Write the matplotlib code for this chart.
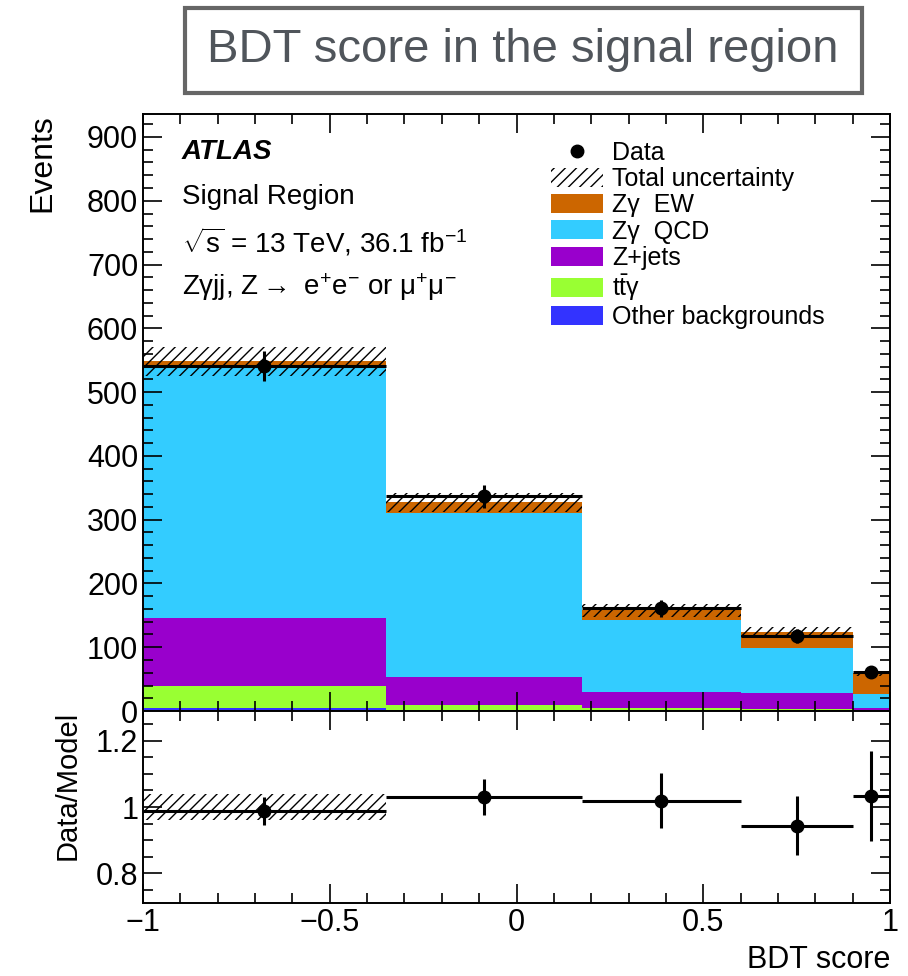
import numpy as np
import matplotlib
matplotlib.use('Agg')
import matplotlib.pyplot as plt
from matplotlib.patches import Patch, Rectangle
from matplotlib.lines import Line2D
from matplotlib.ticker import MultipleLocator, FuncFormatter

plt.rcParams['font.family'] = ['Liberation Sans', 'DejaVu Sans']
plt.rcParams['mathtext.fontset'] = 'custom'
plt.rcParams['mathtext.rm'] = 'Liberation Sans'
plt.rcParams['mathtext.default'] = 'regular'
plt.rcParams['hatch.linewidth'] = 1.0

# binning of the BDT score
edges = np.array([-1.0, -0.35, 0.175, 0.6, 0.9, 1.0])

# observed events
data = np.array([541, 337, 161, 117, 61])
data_err = np.array([23, 18, 13, 11, 8])

# stacked predictions (bottom to top)
other_bkg = np.array([4, 2, 2, 1, 0.5])
ttgamma = np.array([35, 7, 3, 2, 1])
zjets = np.array([107, 44, 25, 25, 3])
zg_qcd = np.array([393, 258, 112, 71, 21.5])
zg_ew = np.array([9, 16, 16, 25, 33])
model_unc = np.array([22, 15, 10, 8, 4])

stack = [other_bkg, ttgamma, zjets, zg_qcd, zg_ew]
stack_colors = ['#3333ff', '#99ff33', '#9900cc', '#33ccff', '#cc6600']
legend_labels = ['Data', 'Total uncertainty', 'Z\u03b3  EW', 'Z\u03b3  QCD',
                 'Z+jets', 't$\\bar{t}$\u03b3', 'Other backgrounds']

widths = np.diff(edges)
centers = edges[:-1] + widths / 2

fig = plt.figure(figsize=(9.08, 9.76), dpi=100)
ax = fig.add_axes([0.1575, 0.2715, 0.8227, 0.6117])
axr = fig.add_axes([0.1575, 0.0748, 0.8227, 0.1967])

# stacked histogram
bottom = np.zeros(len(centers))
for vals, col in zip(stack, stack_colors):
    ax.bar(edges[:-1], vals, width=widths, bottom=bottom, align='edge',
           color=col, linewidth=0)
    bottom = bottom + vals
model = bottom

ax.bar(edges[:-1], 2 * model_unc, width=widths, bottom=model - model_unc,
       align='edge', fill=False, hatch='///', linewidth=0, edgecolor='k')
ax.errorbar(centers, data, xerr=widths / 2, yerr=data_err, fmt='o', color='k',
            ms=9, elinewidth=2.2, capsize=0)

# ratio panel
ratio = data / model
ratio_err = data_err / model
rel_unc = model_unc / model
axr.bar(edges[0], 2 * rel_unc[0], width=widths[0], bottom=1 - rel_unc[0],
        align='edge', fill=False, hatch='///', linewidth=0, edgecolor='k')
axr.errorbar(centers, ratio, xerr=widths / 2, yerr=ratio_err, fmt='o',
             color='k', ms=9, elinewidth=2.2, capsize=0)


def style(a):
    a.tick_params(which='both', direction='in', top=True, right=True,
                  labelsize=22, width=1.2)
    a.tick_params(which='major', length=14)
    a.tick_params(which='minor', length=7)
    for s in a.spines.values():
        s.set_linewidth(1.4)
    a.set_xlim(-1, 1)
    a.xaxis.set_major_locator(MultipleLocator(0.5))
    a.xaxis.set_minor_locator(MultipleLocator(0.1))


fmt = FuncFormatter(lambda v, _: f'{v:g}'.replace('-', '\u2212'))

style(ax)
ax.set_ylim(0, 936)
ax.yaxis.set_major_locator(MultipleLocator(100))
ax.yaxis.set_minor_locator(MultipleLocator(20))
ax.tick_params(labelbottom=False)
ax.set_ylabel('Events', fontsize=23, loc='top')
ax.yaxis.set_label_coords(-0.115, 1.0)

style(axr)
axr.set_ylim(0.71, 1.29)
axr.yaxis.set_major_locator(MultipleLocator(0.2))
axr.yaxis.set_minor_locator(MultipleLocator(0.05))
axr.yaxis.set_major_formatter(fmt)
axr.xaxis.set_major_formatter(fmt)
axr.set_ylabel('Data/Model', fontsize=21, loc='top')
axr.yaxis.set_label_coords(-0.082, 1.0)
axr.set_xlabel('BDT score', fontsize=22, loc='right')
axr.xaxis.set_label_coords(1.0, -0.22)

# labels inside the main panel
ax.text(0.052, 0.936, 'ATLAS', transform=ax.transAxes, fontsize=20,
        fontweight='bold', style='italic', va='center')
ax.text(0.052, 0.861, 'Signal Region', transform=ax.transAxes, fontsize=20,
        va='center')
ax.text(0.052, 0.786, '$\\sqrt{s}$ = 13 TeV, 36.1 fb$^{-1}$', transform=ax.transAxes,
        fontsize=20, va='center')
ax.text(0.052, 0.710,
        'Z\u03b3jj, Z${\\rightarrow}$ e$^{+}$e$^{-}$ or \u03bc$^{+}$\u03bc$^{-}$',
        transform=ax.transAxes, fontsize=20, va='center')

handles = [Line2D([], [], marker='o', color='k', ls='none', ms=9),
           Patch(facecolor='none', edgecolor='k', hatch='///', linewidth=0)]
handles += [Patch(facecolor=c, linewidth=0) for c in stack_colors[::-1]]
ax.legend(handles, legend_labels, loc='upper left', bbox_to_anchor=(0.546, 0.955),
          frameon=False, fontsize=18, borderpad=0, borderaxespad=0,
          handlelength=2.08, handleheight=0.8, handletextpad=0.36,
          labelspacing=0.09)

# boxed title
fig.patches.append(Rectangle((0.2037, 0.9047), 0.7456, 0.0871,
                             transform=fig.transFigure, fill=False,
                             edgecolor='#666666', linewidth=3))
fig.text(523 / 908, 1 - 50 / 976, 'BDT score in the signal region',
         ha='center', va='center', fontsize=34, color='#50555b')

fig.savefig('out.png', dpi=100)
